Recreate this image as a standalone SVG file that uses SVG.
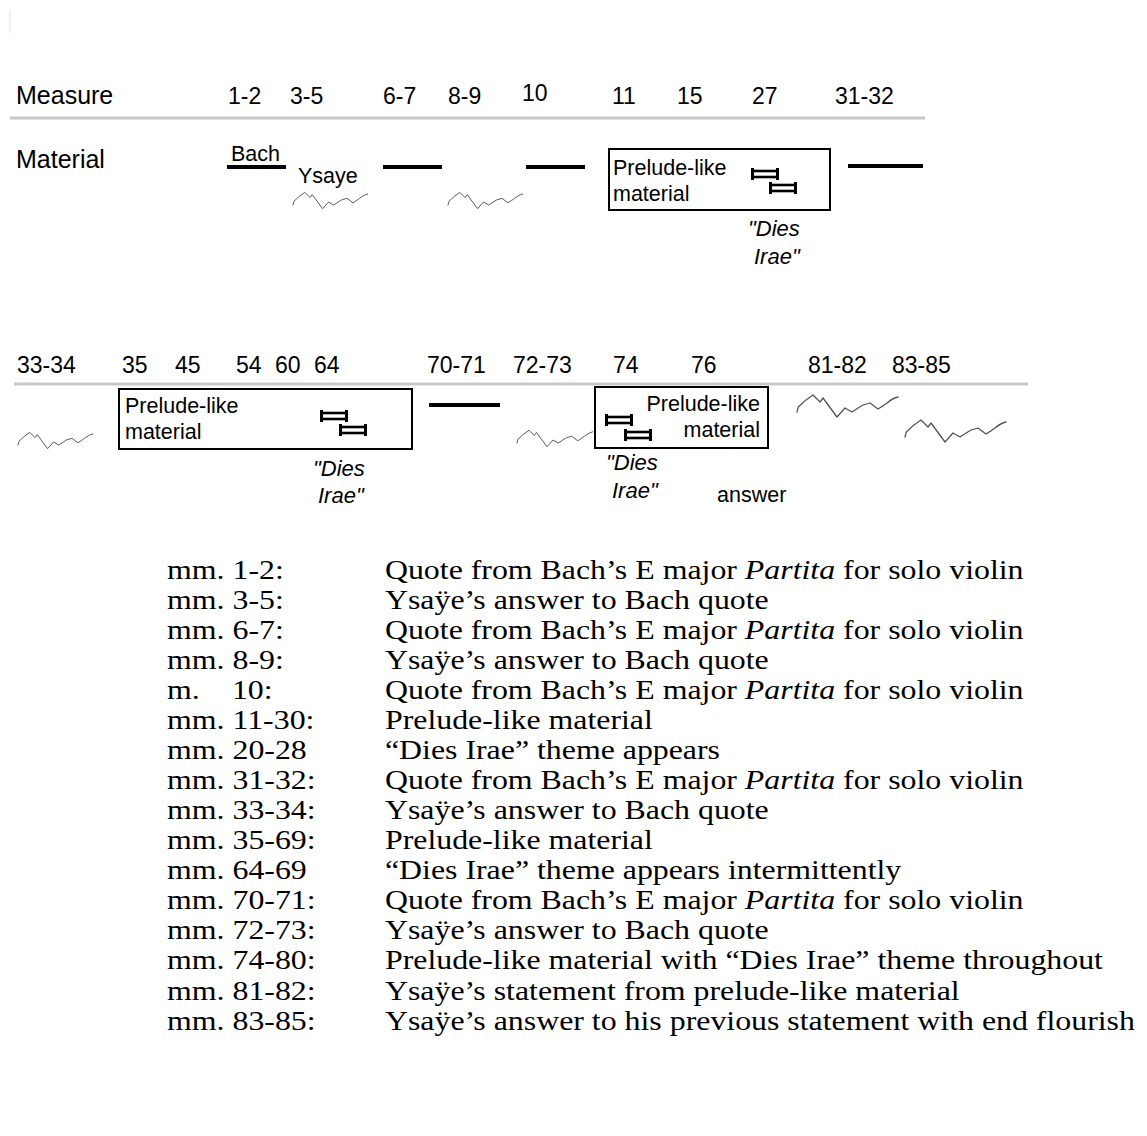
<svg xmlns="http://www.w3.org/2000/svg" xmlns:xlink="http://www.w3.org/1999/xlink" width="1147" height="1136" viewBox="0 0 1147 1136">
<style>
.lbl{font-family:"Liberation Sans",Arial,sans-serif;font-size:25px;fill:#000}
.num{font-family:"Liberation Sans",Arial,sans-serif;font-size:23px;fill:#000}
.box{font-family:"Liberation Sans",Arial,sans-serif;font-size:21.5px;fill:#000}
.dies{font-family:"Liberation Sans",Arial,sans-serif;font-size:22px;font-style:italic;fill:#000}
.rule{stroke:#c8c8c8;stroke-width:3}
.bach{stroke:#000;stroke-width:4}
.frame{fill:none;stroke:#000;stroke-width:2}
.sq{fill:none;stroke:#555;stroke-width:1.3;stroke-linejoin:round;stroke-linecap:round}
.leg{font-family:"Liberation Serif","Times New Roman",serif;font-size:27px;fill:#000}
</style>
<defs>
<path id="squig" d="M0,0 L1.3,-5 Q8,-12 16,-17 L23,-10 L26,-14 L40,5 L48,-4 L55,0 Q61,-4 66,-7 L73,-9 L81,-3 Q86,-6 90,-9 Q96,-14 101,-15"/>
<g id="bar">
<rect x="1.5" y="-3" width="25" height="6" fill="#fff" stroke="#000" stroke-width="2.6"/>
<line x1="1.5" y1="-6" x2="1.5" y2="6" stroke="#000" stroke-width="3"/>
<line x1="26.5" y1="-6" x2="26.5" y2="6" stroke="#000" stroke-width="3"/>
</g>
</defs>
<rect width="1147" height="1136" fill="#fff"/>
<line x1="10" y1="10" x2="10" y2="33" stroke="#e0e0e0" stroke-width="1"/>

<g id="header-row1">
<text class="lbl" x="16" y="104">Measure</text>
<text class="num" x="228" y="104">1-2</text>
<text class="num" x="290" y="104">3-5</text>
<text class="num" x="383" y="104">6-7</text>
<text class="num" x="448" y="104">8-9</text>
<text class="num" x="522" y="101">10</text>
<text class="num" x="612" y="104">11</text>
<text class="num" x="677" y="104">15</text>
<text class="num" x="752" y="104">27</text>
<text class="num" x="835" y="104">31-32</text>
<text class="lbl" x="16" y="168">Material</text>
</g>

<g id="header-row2">
<text class="num" x="17" y="373">33-34</text>
<text class="num" x="122" y="373">35</text>
<text class="num" x="175" y="373">45</text>
<text class="num" x="236" y="373">54</text>
<text class="num" x="275" y="373">60</text>
<text class="num" x="314" y="373">64</text>
<text class="num" x="427" y="373">70-71</text>
<text class="num" x="513" y="373">72-73</text>
<text class="num" x="613" y="373">74</text>
<text class="num" x="691" y="373">76</text>
<text class="num" x="808" y="373">81-82</text>
<text class="num" x="892" y="373">83-85</text>
</g>

<g id="connectors">
<line class="rule" x1="10" y1="118" x2="925" y2="118"/>
<line class="rule" x1="14" y1="384" x2="1028" y2="384"/>
</g>

<g id="bach-1-2">
<text class="box" x="231" y="161">Bach</text>
<line class="bach" x1="227" y1="167" x2="286" y2="167"/>
</g>
<g id="ysaye-3-5">
<text class="box" x="298" y="183">Ysaye</text>
<use xlink:href="#squig" class="sq" transform="translate(293,205) scale(0.74)"/>
</g>
<g id="bach-6-7"><line class="bach" x1="383" y1="167" x2="442" y2="167"/></g>
<g id="ysaye-8-9"><use xlink:href="#squig" class="sq" transform="translate(448,205) scale(0.74)"/></g>
<g id="bach-10"><line class="bach" x1="526" y1="167" x2="585" y2="167"/></g>

<g id="prelude-11">
<rect class="frame" x="609" y="149" width="221" height="61"/>
<text class="box" x="613" y="175">Prelude-like</text>
<text class="box" x="613" y="201">material</text>
<use xlink:href="#bar" x="751" y="174"/>
<use xlink:href="#bar" x="769" y="188"/>
<text class="dies" x="748" y="236">"Dies</text>
<text class="dies" x="754" y="264">Irae"</text>
</g>
<g id="bach-31-32"><line class="bach" x1="848" y1="166" x2="923" y2="166"/></g>

<g id="ysaye-33-34"><use xlink:href="#squig" class="sq" transform="translate(18,445) scale(0.74)"/></g>
<g id="prelude-35">
<rect class="frame" x="119" y="389" width="293" height="60"/>
<text class="box" x="125" y="413">Prelude-like</text>
<text class="box" x="125" y="439">material</text>
<use xlink:href="#bar" x="320" y="416"/>
<use xlink:href="#bar" x="339" y="430"/>
<text class="dies" x="313" y="476">"Dies</text>
<text class="dies" x="318" y="503">Irae"</text>
</g>
<g id="bach-70-71"><line class="bach" x1="429" y1="405" x2="500" y2="405"/></g>
<g id="ysaye-72-73"><use xlink:href="#squig" class="sq" transform="translate(517,443) scale(0.75)"/></g>
<g id="prelude-74">
<rect class="frame" x="595" y="387" width="173" height="61"/>
<text class="box" x="760" y="411" text-anchor="end">Prelude-like</text>
<text class="box" x="760" y="437" text-anchor="end">material</text>
<use xlink:href="#bar" x="605" y="420"/>
<use xlink:href="#bar" x="624" y="435"/>
<text class="dies" x="606" y="470">"Dies</text>
<text class="dies" x="612" y="498">Irae"</text>
<text class="box" x="717" y="502">answer</text>
</g>
<g id="ysaye-81-82"><use xlink:href="#squig" class="sq" transform="translate(797,412)"/></g>
<g id="ysaye-83-85"><use xlink:href="#squig" class="sq" transform="translate(905,437)"/></g>

<g id="legend" class="leg" transform="translate(167,0) scale(1.18,1)">
<text x="0" y="579">mm. 1-2:</text><text x="184.7" y="579">Quote from Bach’s E major <tspan font-style="italic">Partita</tspan> for solo violin</text>
<text x="0" y="609">mm. 3-5:</text><text x="184.7" y="609">Ysaÿe’s answer to Bach quote</text>
<text x="0" y="639">mm. 6-7:</text><text x="184.7" y="639">Quote from Bach’s E major <tspan font-style="italic">Partita</tspan> for solo violin</text>
<text x="0" y="669">mm. 8-9:</text><text x="184.7" y="669">Ysaÿe’s answer to Bach quote</text>
<text x="0" y="699">m.</text><text x="55" y="699">10:</text><text x="184.7" y="699">Quote from Bach’s E major <tspan font-style="italic">Partita</tspan> for solo violin</text>
<text x="0" y="729">mm. 11-30:</text><text x="184.7" y="729">Prelude-like material</text>
<text x="0" y="759">mm. 20-28</text><text x="184.7" y="759">“Dies Irae” theme appears</text>
<text x="0" y="789">mm. 31-32:</text><text x="184.7" y="789">Quote from Bach’s E major <tspan font-style="italic">Partita</tspan> for solo violin</text>
<text x="0" y="819">mm. 33-34:</text><text x="184.7" y="819">Ysaÿe’s answer to Bach quote</text>
<text x="0" y="849">mm. 35-69:</text><text x="184.7" y="849">Prelude-like material</text>
<text x="0" y="879">mm. 64-69</text><text x="184.7" y="879">“Dies Irae” theme appears intermittently</text>
<text x="0" y="909">mm. 70-71:</text><text x="184.7" y="909">Quote from Bach’s E major <tspan font-style="italic">Partita</tspan> for solo violin</text>
<text x="0" y="939">mm. 72-73:</text><text x="184.7" y="939">Ysaÿe’s answer to Bach quote</text>
<text x="0" y="969">mm. 74-80:</text><text x="184.7" y="969">Prelude-like material with “Dies Irae” theme throughout</text>
<text x="0" y="1000">mm. 81-82:</text><text x="184.7" y="1000">Ysaÿe’s statement from prelude-like material</text>
<text x="0" y="1030">mm. 83-85:</text><text x="184.7" y="1030">Ysaÿe’s answer to his previous statement with end flourish</text>
</g>
</svg>
